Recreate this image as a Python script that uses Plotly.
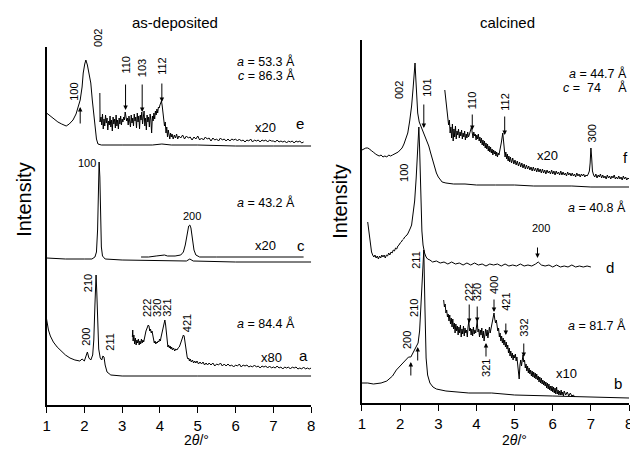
import plotly.graph_objects as go

# ---------------- LEFT PANEL: as-deposited (2theta, intensity incl. offset) ----------------
e_main = [(1.00, 292), (1.10, 289), (1.20, 286), (1.30, 283), (1.40, 281), (1.52, 279), (1.60, 281),
          (1.70, 285), (1.78, 291), (1.84, 298), (1.89, 305), (1.94, 318), (1.97, 332), (2.01, 341),
          (2.04, 345), (2.08, 340), (2.13, 330), (2.17, 322), (2.21, 305), (2.25, 290), (2.28, 278),
          (2.32, 266), (2.36, 261), (2.45, 260), (3.00, 260), (3.80, 260), (4.05, 261), (4.30, 260),
          (5.00, 260), (6.00, 259), (7.00, 259), (8.00, 259)]

e_x20 = [(2.410, 312), (2.415, 283), (2.44, 288), (2.46, 280), (2.48, 291), (2.50, 276), (2.52, 286),
         (2.54, 279), (2.56, 290), (2.58, 282), (2.60, 287), (2.62, 275), (2.64, 284), (2.66, 280),
         (2.68, 289), (2.70, 278), (2.72, 285), (2.74, 274), (2.76, 288), (2.78, 281), (2.80, 286),
         (2.82, 277), (2.84, 290), (2.86, 279), (2.88, 285), (2.90, 276), (2.92, 287), (2.94, 281),
         (2.96, 289), (2.98, 280), (3.00, 286), (3.02, 283), (3.04, 288), (3.06, 285), (3.08, 293),
         (3.10, 290), (3.12, 284), (3.14, 287), (3.16, 280), (3.18, 289), (3.20, 283), (3.22, 278),
         (3.24, 290), (3.26, 282), (3.28, 287), (3.30, 279), (3.32, 291), (3.34, 284), (3.36, 288),
         (3.38, 277), (3.40, 292), (3.42, 283), (3.44, 289), (3.46, 276), (3.48, 290), (3.50, 285),
         (3.52, 293), (3.54, 281), (3.56, 288), (3.58, 294), (3.60, 279), (3.62, 287), (3.64, 275),
         (3.66, 290), (3.68, 283), (3.70, 288), (3.72, 278), (3.74, 291), (3.76, 285), (3.78, 272),
         (3.80, 289), (3.82, 284), (3.84, 292), (3.86, 286), (3.88, 294), (3.90, 290), (3.92, 296),
         (3.94, 292), (3.96, 298), (3.98, 297), (4.00, 300), (4.02, 303), (4.04, 304), (4.06, 299),
         (4.08, 293), (4.10, 285), (4.12, 279), (4.14, 283), (4.16, 272), (4.18, 278), (4.20, 268),
         (4.22, 275), (4.24, 270), (4.26, 266), (4.28, 272), (4.30, 268), (4.32, 271), (4.35, 266),
         (4.38, 270), (4.41, 267), (4.44, 271), (4.47, 266), (4.50, 269), (4.55, 267), (4.60, 270),
         (4.65, 266), (4.70, 269), (4.75, 267), (4.80, 268), (4.85, 265), (4.90, 268), (4.95, 266),
         (5.00, 269), (5.05, 265), (5.10, 267), (5.15, 265), (5.20, 268), (5.25, 266), (5.30, 267),
         (5.35, 264), (5.40, 267), (5.45, 265), (5.50, 266), (5.55, 264), (5.60, 267), (5.65, 265),
         (5.70, 266), (5.75, 264), (5.80, 266), (5.85, 264), (5.90, 266), (5.95, 265), (6.00, 266),
         (6.05, 264), (6.10, 266), (6.15, 264), (6.20, 265), (6.25, 263), (6.30, 265), (6.35, 264),
         (6.40, 266), (6.45, 263), (6.50, 265), (6.55, 264), (6.60, 265), (6.65, 263), (6.70, 265),
         (6.75, 264), (6.80, 265), (6.85, 263), (6.90, 265), (6.95, 264), (7.00, 264), (7.05, 263),
         (7.10, 265), (7.15, 263), (7.20, 264), (7.25, 263), (7.30, 264), (7.35, 262), (7.40, 264),
         (7.45, 263), (7.50, 264), (7.55, 262), (7.60, 264), (7.65, 263), (7.70, 264), (7.75, 262),
         (7.80, 263)]

c_main = [(1.00, 147), (1.50, 146), (2.00, 146), (2.20, 146), (2.28, 148), (2.32, 153), (2.35, 175),
          (2.37, 215), (2.39, 243), (2.41, 228), (2.43, 185), (2.45, 158), (2.48, 149), (2.55, 146),
          (3.00, 145), (4.00, 144), (4.70, 144), (4.79, 146), (4.88, 144), (6.00, 143), (8.00, 143)]

c_x20 = [(3.50, 148), (3.70, 148), (3.90, 149), (4.05, 150), (4.12, 150), (4.20, 149), (4.40, 149),
         (4.55, 150), (4.62, 153), (4.67, 160), (4.72, 172), (4.76, 179), (4.79, 180), (4.82, 177),
         (4.86, 166), (4.90, 155), (4.95, 150), (5.05, 148), (5.50, 148), (6.50, 148), (7.80, 148)]

a_main = [(1.00, 86), (1.05, 75), (1.10, 69), (1.18, 63), (1.28, 58), (1.39, 54), (1.50, 50),
          (1.62, 47), (1.75, 45), (1.88, 44), (1.94, 46), (2.00, 44), (2.04, 48), (2.08, 53),
          (2.12, 47), (2.17, 45), (2.22, 50), (2.25, 65), (2.28, 100), (2.30, 125), (2.31, 130),
          (2.33, 112), (2.35, 80), (2.38, 56), (2.42, 47), (2.46, 45), (2.49, 49), (2.52, 48),
          (2.55, 40), (2.60, 33), (2.70, 30), (3.00, 29), (5.00, 29), (8.00, 29)]

a_x80 = [(3.27, 68), (3.28, 75), (3.29, 64), (3.31, 70), (3.33, 61), (3.35, 67), (3.37, 60), (3.39, 65),
         (3.41, 62), (3.43, 66), (3.45, 60), (3.47, 64), (3.49, 61), (3.51, 66), (3.53, 62), (3.55, 65),
         (3.57, 63), (3.59, 68), (3.61, 70), (3.63, 74), (3.65, 76), (3.67, 78), (3.69, 80), (3.71, 79),
         (3.73, 74), (3.75, 76), (3.77, 72), (3.79, 74), (3.81, 68), (3.83, 65), (3.85, 62), (3.87, 64),
         (3.89, 61), (3.91, 63), (3.93, 62), (3.95, 64), (3.97, 63), (3.99, 66), (4.01, 64), (4.03, 68),
         (4.05, 72), (4.07, 76), (4.09, 81), (4.11, 84), (4.13, 85), (4.15, 80), (4.17, 70), (4.19, 62),
         (4.21, 58), (4.23, 60), (4.25, 57), (4.27, 59), (4.29, 56), (4.31, 58), (4.33, 55), (4.36, 57),
         (4.39, 54), (4.42, 56), (4.45, 55), (4.48, 57), (4.51, 58), (4.54, 61), (4.57, 64), (4.60, 68),
         (4.62, 70), (4.64, 69), (4.66, 63), (4.68, 56), (4.70, 51), (4.72, 48), (4.74, 46), (4.76, 47),
         (4.78, 44), (4.80, 46), (4.83, 43), (4.86, 45), (4.89, 42), (4.92, 44), (4.95, 42), (4.98, 44),
         (5.02, 41), (5.06, 43), (5.10, 41), (5.14, 43), (5.18, 40), (5.22, 42), (5.26, 40), (5.30, 42),
         (5.35, 40), (5.40, 42), (5.45, 39), (5.50, 41), (5.55, 40), (5.60, 42), (5.65, 39), (5.70, 41),
         (5.75, 39), (5.80, 41), (5.85, 39), (5.90, 40), (5.95, 38), (6.00, 40), (6.05, 39), (6.10, 41),
         (6.15, 38), (6.20, 40), (6.25, 39), (6.30, 40), (6.35, 38), (6.40, 39), (6.45, 38), (6.50, 40),
         (6.55, 38), (6.60, 39), (6.65, 37), (6.70, 39), (6.75, 38), (6.80, 39), (6.85, 37), (6.90, 39),
         (6.95, 37), (7.00, 38), (7.05, 37), (7.10, 39), (7.15, 37), (7.20, 38), (7.25, 36), (7.30, 38),
         (7.35, 37), (7.40, 38), (7.45, 36), (7.50, 38), (7.55, 37), (7.60, 38), (7.65, 36), (7.70, 37),
         (7.75, 36), (7.80, 38), (7.85, 36), (7.90, 37), (7.95, 36), (8.00, 37)]

# ---------------- RIGHT PANEL: calcined ----------------
f_main = [(1.00, 253), (1.05, 254), (1.10, 255), (1.15, 255), (1.20, 254), (1.25, 252), (1.30, 251),
          (1.35, 249), (1.40, 248), (1.45, 247), (1.50, 248), (1.55, 246), (1.60, 247), (1.65, 246),
          (1.70, 248), (1.75, 247), (1.80, 248), (1.85, 249), (1.90, 250), (1.95, 251), (2.00, 253),
          (2.05, 255), (2.10, 259), (2.15, 264), (2.20, 270), (2.25, 282), (2.30, 297), (2.34, 315),
          (2.37, 330), (2.39, 340), (2.41, 325), (2.43, 305), (2.46, 290), (2.50, 281), (2.55, 276),
          (2.60, 273), (2.65, 268), (2.70, 263), (2.75, 257), (2.80, 250), (2.85, 243), (2.90, 236),
          (2.95, 230), (3.00, 226), (3.05, 223), (3.10, 221), (3.20, 220), (3.40, 219), (3.70, 219),
          (4.00, 218), (4.50, 218), (5.00, 218), (5.50, 217), (6.00, 217), (6.50, 217), (7.00, 216),
          (7.50, 216), (8.00, 216)]

f_x20 = [(3.17, 313), (3.19, 305), (3.21, 298), (3.23, 290), (3.25, 286), (3.27, 278), (3.29, 283),
         (3.31, 270), (3.33, 276), (3.35, 265), (3.37, 279), (3.39, 262), (3.41, 274), (3.43, 266),
         (3.45, 277), (3.47, 264), (3.49, 272), (3.51, 268), (3.53, 274), (3.55, 265), (3.57, 271),
         (3.59, 267), (3.61, 273), (3.63, 264), (3.65, 270), (3.67, 266), (3.69, 272), (3.71, 263),
         (3.73, 269), (3.75, 265), (3.77, 271), (3.79, 266), (3.81, 268), (3.83, 270), (3.85, 272),
         (3.87, 276), (3.89, 270), (3.91, 265), (3.93, 271), (3.95, 267), (3.97, 269), (3.99, 263),
         (4.01, 268), (4.03, 264), (4.05, 269), (4.07, 262), (4.09, 266), (4.11, 260), (4.13, 265),
         (4.15, 258), (4.17, 263), (4.19, 257), (4.21, 262), (4.23, 255), (4.25, 260), (4.27, 254),
         (4.29, 259), (4.31, 252), (4.33, 257), (4.35, 251), (4.37, 256), (4.39, 250), (4.41, 254),
         (4.43, 248), (4.45, 253), (4.47, 249), (4.49, 252), (4.51, 247), (4.53, 251), (4.55, 246),
         (4.57, 250), (4.59, 248), (4.61, 252), (4.63, 255), (4.65, 260), (4.67, 265), (4.69, 270),
         (4.71, 262), (4.73, 250), (4.75, 246), (4.77, 251), (4.79, 244), (4.81, 249), (4.83, 242),
         (4.85, 247), (4.87, 241), (4.89, 246), (4.92, 240), (4.95, 245), (4.98, 239), (5.01, 243),
         (5.04, 238), (5.07, 242), (5.10, 237), (5.13, 241), (5.16, 236), (5.19, 240), (5.22, 235),
         (5.25, 239), (5.28, 234), (5.31, 238), (5.34, 234), (5.37, 237), (5.40, 233), (5.43, 236),
         (5.46, 232), (5.49, 236), (5.52, 232), (5.55, 235), (5.58, 231), (5.61, 235), (5.64, 231),
         (5.67, 234), (5.70, 230), (5.73, 234), (5.76, 230), (5.79, 233), (5.82, 229), (5.85, 233),
         (5.88, 230), (5.91, 232), (5.94, 229), (5.97, 233), (6.00, 229), (6.03, 232), (6.06, 228),
         (6.09, 232), (6.12, 229), (6.15, 231), (6.18, 228), (6.21, 232), (6.24, 228), (6.27, 231),
         (6.30, 228), (6.33, 230), (6.36, 227), (6.39, 231), (6.42, 228), (6.45, 230), (6.48, 227),
         (6.51, 230), (6.54, 227), (6.57, 229), (6.60, 226), (6.63, 230), (6.66, 227), (6.69, 229),
         (6.72, 226), (6.75, 229), (6.78, 227), (6.81, 229), (6.84, 226), (6.87, 228), (6.90, 227),
         (6.93, 229), (6.96, 232), (6.98, 240), (7.00, 255), (7.02, 245), (7.04, 232), (7.07, 228),
         (7.10, 226), (7.13, 229), (7.16, 225), (7.19, 228), (7.22, 226), (7.25, 229), (7.28, 225),
         (7.31, 228), (7.34, 225), (7.37, 227), (7.40, 224), (7.43, 228), (7.46, 225), (7.49, 227),
         (7.52, 224), (7.55, 227), (7.58, 225), (7.61, 228), (7.64, 224), (7.67, 226), (7.70, 224),
         (7.73, 227), (7.76, 224), (7.79, 226), (7.82, 223), (7.85, 227), (7.88, 224), (7.91, 226),
         (7.94, 223), (7.97, 225), (8.00, 224)]

d_main = [(1.15, 181), (1.17, 174), (1.19, 166), (1.21, 160), (1.23, 155), (1.25, 151), (1.28, 148),
          (1.31, 146), (1.34, 148), (1.37, 145), (1.40, 147), (1.43, 144), (1.46, 147), (1.49, 145),
          (1.52, 148), (1.55, 146), (1.58, 148), (1.61, 145), (1.64, 148), (1.67, 147), (1.70, 150),
          (1.73, 148), (1.76, 151), (1.79, 150), (1.82, 153), (1.85, 152), (1.88, 155), (1.91, 154),
          (1.94, 157), (1.97, 158), (2.00, 160), (2.03, 161), (2.06, 163), (2.09, 164), (2.12, 166),
          (2.15, 167), (2.18, 168), (2.21, 170), (2.24, 172), (2.27, 175), (2.30, 178), (2.34, 188),
          (2.38, 202), (2.42, 225), (2.45, 250), (2.48, 272), (2.49, 276), (2.51, 255), (2.53, 225),
          (2.55, 195), (2.57, 172), (2.60, 158), (2.64, 150), (2.68, 146), (2.72, 144), (2.78, 143),
          (2.85, 141), (2.95, 142), (3.05, 140), (3.15, 141), (3.25, 139), (3.35, 141), (3.45, 139),
          (3.55, 140), (3.65, 138), (3.75, 140), (3.85, 138), (3.95, 140), (4.05, 138), (4.15, 139),
          (4.25, 137), (4.35, 139), (4.45, 138), (4.55, 139), (4.65, 137), (4.75, 139), (4.85, 137),
          (4.95, 138), (5.05, 137), (5.15, 139), (5.25, 137), (5.35, 138), (5.45, 137), (5.55, 139),
          (5.62, 141), (5.70, 138), (5.80, 137), (5.90, 138), (6.00, 136), (6.10, 138), (6.20, 136),
          (6.30, 137), (6.40, 136), (6.50, 138), (6.60, 136), (6.70, 137), (6.80, 136), (6.90, 137),
          (7.00, 136)]

b_main = [(1.00, 20), (1.15, 20), (1.30, 19), (1.50, 20), (1.65, 22), (1.80, 27), (1.90, 33),
          (2.05, 39), (2.15, 43), (2.22, 46), (2.28, 46), (2.35, 51), (2.42, 56), (2.47, 60),
          (2.51, 72), (2.54, 93), (2.58, 125), (2.62, 153), (2.65, 95), (2.68, 45), (2.72, 28),
          (2.78, 20), (2.86, 16), (2.95, 14), (3.20, 12), (3.80, 10), (4.40, 10), (5.00, 8),
          (6.00, 7), (7.00, 6), (8.00, 5)]

b_x10 = [(3.14, 103), (3.16, 96), (3.18, 99), (3.20, 90), (3.22, 93), (3.24, 86), (3.26, 89), (3.28, 82),
         (3.30, 88), (3.32, 79), (3.34, 85), (3.36, 76), (3.38, 84), (3.40, 74), (3.42, 80), (3.44, 70),
         (3.46, 79), (3.48, 72), (3.50, 77), (3.52, 68), (3.54, 76), (3.56, 70), (3.58, 78), (3.60, 66),
         (3.62, 74), (3.64, 69), (3.66, 77), (3.68, 67), (3.70, 75), (3.72, 70), (3.74, 73), (3.76, 66),
         (3.78, 76), (3.80, 82), (3.82, 72), (3.84, 75), (3.86, 68), (3.88, 74), (3.90, 67), (3.92, 76),
         (3.94, 69), (3.96, 73), (3.98, 70), (4.00, 78), (4.02, 82), (4.04, 71), (4.06, 74), (4.08, 66),
         (4.10, 73), (4.12, 68), (4.14, 75), (4.16, 65), (4.18, 72), (4.20, 62), (4.22, 70), (4.24, 74),
         (4.26, 67), (4.28, 73), (4.30, 65), (4.32, 71), (4.34, 76), (4.36, 70), (4.38, 74), (4.40, 78),
         (4.42, 82), (4.44, 86), (4.46, 90), (4.48, 84), (4.50, 80), (4.52, 83), (4.54, 76), (4.56, 72),
         (4.58, 75), (4.60, 66), (4.62, 70), (4.64, 62), (4.66, 67), (4.68, 60), (4.70, 65), (4.72, 58),
         (4.74, 63), (4.76, 56), (4.78, 61), (4.80, 54), (4.82, 58), (4.84, 50), (4.86, 55), (4.88, 47),
         (4.90, 52), (4.92, 45), (4.94, 50), (4.96, 43), (4.98, 48), (5.00, 45), (5.02, 49), (5.04, 42),
         (5.06, 46), (5.08, 40), (5.10, 36), (5.12, 24), (5.14, 38), (5.16, 43), (5.18, 37), (5.20, 45),
         (5.22, 48), (5.24, 41), (5.26, 43), (5.28, 35), (5.30, 39), (5.32, 32), (5.34, 37), (5.36, 30),
         (5.38, 35), (5.40, 29), (5.42, 33), (5.44, 27), (5.46, 32), (5.48, 26), (5.50, 31), (5.52, 25),
         (5.54, 30), (5.56, 24), (5.58, 29), (5.60, 23), (5.62, 27), (5.64, 21), (5.66, 26), (5.68, 20),
         (5.70, 25), (5.72, 19), (5.74, 23), (5.76, 18), (5.78, 22), (5.80, 17), (5.82, 21), (5.84, 15),
         (5.86, 20), (5.88, 14), (5.90, 19), (5.92, 13), (5.94, 17), (5.96, 12), (5.98, 17), (6.00, 11),
         (6.02, 16), (6.04, 10), (6.06, 15), (6.08, 9), (6.10, 16), (6.12, 9), (6.14, 13), (6.16, 8),
         (6.18, 12), (6.20, 8), (6.22, 13), (6.24, 8), (6.26, 11), (6.28, 7), (6.30, 12), (6.34, 8),
         (6.38, 11), (6.42, 7), (6.46, 10), (6.50, 7), (6.54, 8), (6.58, 6)]

# reflection labels: (text, x, y) rotated; arrows: (tip_x, tip_y, tail_x, tail_y)
left_rot_labels = [("100", 1.72, 313), ("110", 3.09, 340), ("103", 3.53, 337),
                   ("112", 4.05, 339), ("210", 2.10, 122), ("200", 2.04, 68), ("211", 2.67, 63),
                   ("222", 3.66, 97), ("320", 3.92, 97), ("321", 4.18, 97), ("421", 4.72, 82)]
left_top_label = ("002", 2.36, 38)   # x in data units, y in reference pixel rows (above the axis top)
left_flat_labels = [("100", 2.07, 242), ("200", 4.86, 189)]
left_arrows = [(1.89, 298, 1.89, 280), (3.09, 295, 3.09, 322), (3.53, 293, 3.53, 322),
               (4.05, 303, 4.05, 323)]
left_params = [("<i>a</i> = 53.3 Å", 7.63, 344), ("<i>c</i> = 86.3 Å", 7.63, 330),
               ("<i>a</i> = 43.2 Å", 7.63, 203), ("<i>a</i> = 84.4 Å", 7.63, 82)]
left_scales = [("x20", 6.80, 278), ("x20", 6.80, 160), ("x80", 6.95, 48)]
left_curve_ids = [("e", 7.70, 282), ("c", 7.72, 160), ("a", 7.80, 50)]

right_rot_labels = [("002", 1.97, 313), ("101", 2.70, 315), ("110", 3.89, 303), ("112", 4.74, 301),
                    ("300", 7.04, 270), ("100", 2.10, 230), ("211", 2.41, 143), ("210", 2.36, 95),
                    ("200", 2.18, 63), ("222", 3.81, 111), ("320", 4.02, 111), ("400", 4.46, 118),
                    ("421", 4.77, 101), ("332", 5.24, 75), ("321", 4.25, 35)]
right_flat_labels = [("200", 5.68, 175)]
right_arrows = [(2.62, 275, 2.62, 300), (3.89, 273, 3.89, 290), (4.74, 268, 4.74, 288),
                (5.60, 145, 5.60, 157), (2.28, 41, 2.28, 26), (2.46, 56, 2.46, 41),
                (3.81, 80, 3.81, 100), (4.02, 81, 4.02, 98), (4.46, 91, 4.46, 105),
                (4.77, 68, 4.77, 81), (5.24, 46, 5.24, 61), (4.25, 60, 4.25, 45)]
right_params = [("<i>a</i> = 44.7 Å", 8.0, 329), ("<i>c</i> =\u00a0 74\u00a0\u00a0\u00a0\u00a0 Å", 8.0, 315),
                ("<i>a</i> = 40.8 Å", 7.98, 196), ("<i>a</i> = 81.7 Å", 7.98, 78)]
right_scales = [("x20", 5.86, 248), ("x10", 6.37, 30)]
right_curve_ids = [("f", 7.90, 246), ("d", 7.50, 136), ("b", 7.70, 20)]

FONT = "Liberation Sans, Arial, sans-serif"
# the page body adds an 8 px margin, so the figure is 8 px smaller and shifted
OFF = 8
W, H = 638 - OFF, 450 - OFF
def px2paper(px, py):
    return (px - OFF) / W, 1 - (py - OFF) / H

fig = go.Figure()

def add_curve(pts, xa, ya):
    fig.add_trace(go.Scatter(x=[p[0] for p in pts], y=[p[1] for p in pts], mode="lines",
                             line=dict(color="black", width=1), xaxis=xa, yaxis=ya,
                             showlegend=False, hoverinfo="skip"))

for pts in (e_main, e_x20, c_main, c_x20, a_main, a_x80):
    add_curve(pts, "x", "y")
for pts in (f_main, f_x20, d_main, b_main, b_x10):
    add_curve(pts, "x2", "y2")

ann = []
def txt(**kw):
    d = dict(showarrow=False, xanchor="center", yanchor="middle")
    d.update(kw)
    ann.append(d)

def add_panel_ann(xr, yr, rot, flat, arrows, params, scales, ids):
    for t, x, y in rot:
        txt(text=t, x=x, y=y, xref=xr, yref=yr, textangle=-90,
            font=dict(size=11, family=FONT, color="black"))
    for t, x, y in flat:
        txt(text=t, x=x, y=y, xref=xr, yref=yr, font=dict(size=11, family=FONT, color="black"))
    for tx, ty, sx, sy in arrows:
        ann.append(dict(text="", x=tx, y=ty, ax=sx, ay=sy, xref=xr, yref=yr, axref=xr, ayref=yr,
                        showarrow=True, arrowhead=2, arrowsize=0.9, arrowwidth=1, arrowcolor="black",
                        standoff=0, startstandoff=0))
    for t, x, y in params:
        txt(text=t, x=x, y=y, xref=xr, yref=yr, xanchor="right",
            font=dict(size=12.5, family=FONT, color="black"))
    for t, x, y in scales:
        txt(text=t, x=x, y=y, xref=xr, yref=yr, font=dict(size=13, family=FONT, color="black"))
    for t, x, y in ids:
        txt(text=t, x=x, y=y, xref=xr, yref=yr, font=dict(size=15, family=FONT, color="black"))

add_panel_ann("x", "y", left_rot_labels, left_flat_labels, left_arrows, left_params,
              left_scales, left_curve_ids)
add_panel_ann("x2", "y2", right_rot_labels, right_flat_labels, right_arrows, right_params,
              right_scales, right_curve_ids)

t, lx, lpy = left_top_label
txt(text=t, x=lx, y=px2paper(0, lpy)[1], xref="x", yref="paper", textangle=-90,
    font=dict(size=11, family=FONT, color="black"))

for t, px, py, size, ang in [("as-deposited", 173, 22, 15, 0), ("calcined", 510, 22, 15, 0),
                             ("Intensity", 20, 200, 20, -90), ("Intensity", 340, 202, 20, -90),
                             ("2<i>θ</i>/°", 195, 440, 14, 0), ("2<i>θ</i>/°", 517, 440, 14, 0)]:
    x, y = px2paper(px, py)
    txt(text=t, x=x, y=y, xref="paper", yref="paper", textangle=ang,
        font=dict(size=size, family=FONT, color="black"))

xcommon = dict(range=[1, 8], tickmode="array", tickvals=[1, 2, 3, 4, 5, 6, 7, 8],
               showline=True, linecolor="black", linewidth=1.5, ticks="outside", ticklen=6,
               tickwidth=1.2, tickcolor="black", showgrid=False, zeroline=False,
               tickfont=dict(size=15, family=FONT, color="black"), fixedrange=True)
ycommon = dict(showline=True, linecolor="black", linewidth=1.5, ticks="", showticklabels=False,
               showgrid=False, zeroline=False, fixedrange=True)

lx0, ly_top = px2paper(43, 47)
lx1, ly_bot = px2paper(311, 405)
rx0, ry_top = px2paper(362.5, 40)
rx1, ry_bot = px2paper(633, 403)

fig.update_layout(
    width=W, height=H, margin=dict(l=0, r=0, t=0, b=0),
    paper_bgcolor="white", plot_bgcolor="white", showlegend=False,
    xaxis=dict(domain=[lx0, lx1], anchor="y", **xcommon),
    yaxis=dict(domain=[ly_bot, ly_top], range=[0, 358], anchor="x", **ycommon),
    xaxis2=dict(domain=[rx0, rx1], anchor="y2", **xcommon),
    yaxis2=dict(domain=[ry_bot, ry_top], range=[0, 363], anchor="x2", **ycommon),
    annotations=ann,
)

fig.write_html("out.html")
